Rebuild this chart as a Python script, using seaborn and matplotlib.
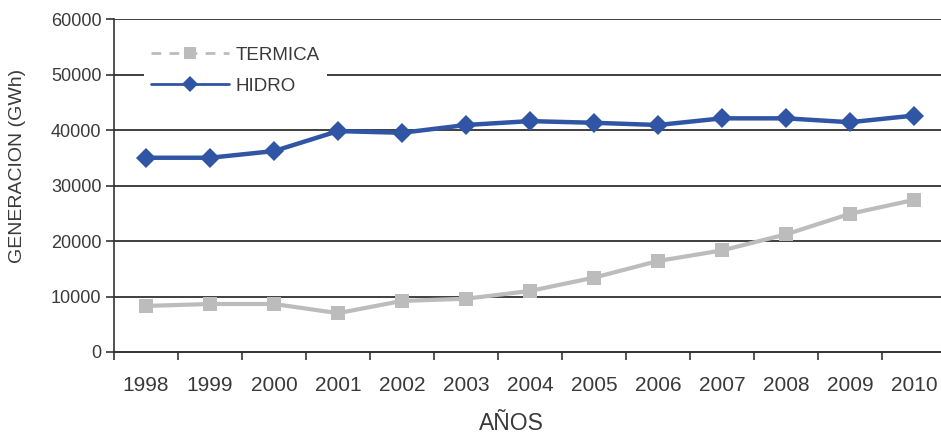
import matplotlib
matplotlib.use("Agg")
import matplotlib.pyplot as plt
from matplotlib.lines import Line2D
import seaborn as sns
import pandas as pd

years = ["1998", "1999", "2000", "2001", "2002", "2003", "2004",
         "2005", "2006", "2007", "2008", "2009", "2010"]
hidro = [35000, 35000, 36200, 39800, 39500, 40900, 41600,
         41300, 40900, 42100, 42100, 41400, 42600]
termica = [8300, 8650, 8650, 7000, 9200, 9600, 11000,
           13400, 16400, 18300, 21200, 24900, 27400]
y_ticks = [0, 10000, 20000, 30000, 40000, 50000, 60000]

BLUE = "#2f55a4"
GRAY = "#bcbcbc"
TEXT = "#3a3a3a"

sns.set_style("white")
plt.rcParams["font.family"] = ["Liberation Sans", "DejaVu Sans"]

df = pd.DataFrame({"year": years, "HIDRO": hidro, "TERMICA": termica})
df["pos"] = range(len(years))

fig = plt.figure(figsize=(9.41, 4.34), dpi=100)
ax = fig.add_axes([114 / 941, 1 - 352 / 434, 832 / 941, 333 / 434])

for y in y_ticks[1:]:
    ax.axhline(y, color="#303030", lw=1.3, zorder=1)

sns.lineplot(data=df, x="pos", y="TERMICA", ax=ax, color=GRAY, lw=3,
             marker="s", markersize=10, markeredgewidth=0, zorder=3)
sns.lineplot(data=df, x="pos", y="HIDRO", ax=ax, color=BLUE, lw=3.2,
             marker="D", markersize=10, markeredgewidth=0, zorder=4)

ax.set_xlim(-0.5, len(years) - 0.5)
ax.set_ylim(0, 60000)
ax.set_yticks(y_ticks)
ax.set_yticklabels([str(v) for v in y_ticks], fontsize=13, color=TEXT)
ax.set_xticks([p + 0.5 for p in range(len(years) - 1)] + [-0.5])
ax.set_xticklabels([])
for i, lab in enumerate(years):
    ax.text(i, -0.10, lab, transform=ax.get_xaxis_transform(),
            ha="center", va="center", fontsize=15, color=TEXT)
ax.tick_params(axis="x", direction="out", length=6, width=1.2, color="#333333", bottom=True)
ax.tick_params(axis="y", direction="out", length=6, width=1.2, color="#333333", left=True, pad=3)

for s in ["top", "right"]:
    ax.spines[s].set_visible(False)
ax.spines["left"].set_color("#333333")
ax.spines["left"].set_linewidth(1.2)
ax.spines["bottom"].set_color("#333333")
ax.spines["bottom"].set_linewidth(1.4)

ax.set_xlabel("")
ax.set_ylabel("")
fig.text(18 / 941, 1 - 166 / 434, "GENERACION (GWh)", rotation=90,
         ha="center", va="center", fontsize=14, color=TEXT)
fig.text(511 / 941, 1 - 423 / 434, "AÑOS", ha="center", va="center",
         fontsize=16.5, color=TEXT)

handles = [
    Line2D([], [], color=GRAY, lw=2, ls=(0, (3.5, 3)), marker="s", markersize=8,
           markeredgewidth=0),
    Line2D([], [], color=BLUE, lw=2, marker="D", markersize=8, markeredgewidth=0),
]
leg = ax.legend(handles, ["TERMICA", "HIDRO"], loc="upper left",
                bbox_to_anchor=(0.036, 0.937), frameon=True, fontsize=13.5,
                handlelength=4.2, handletextpad=0.35, labelspacing=0.75,
                borderpad=0.35, borderaxespad=0, framealpha=1)
leg.get_frame().set_edgecolor("white")
leg.get_frame().set_linewidth(0)
leg.set_zorder(5)
for t in leg.get_texts():
    t.set_color(TEXT)

fig.savefig("out.png", dpi=100, facecolor="white")
